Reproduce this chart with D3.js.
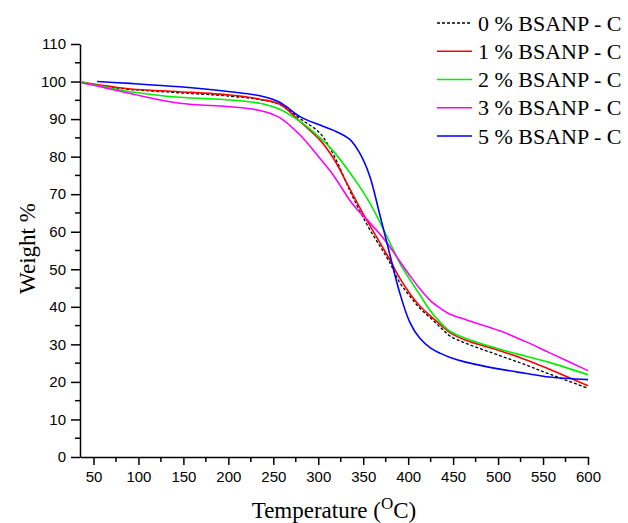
<!DOCTYPE html>
<html lang="en">
<head>
  <meta charset="UTF-8">
  <title>TGA curves</title>
  <script src="https://d3js.org/d3.v7.min.js"></script>
  <style>
    body { margin: 0; background: #fff; }
    .tick text { font-family: "Liberation Sans", Arial, sans-serif; font-size: 15px; fill: #000; }
    .axis path, .axis line { stroke: #000; stroke-width: 1.5; }
    .title { font-family: "Liberation Serif", "Times New Roman", serif; font-size: 23px; fill: #000; }
    .legend text { font-family: "Liberation Serif", "Times New Roman", serif; font-size: 22px; fill: #000; }
  </style>
</head>
<body>
  <div id="chart"></div>
  <script>
    // Temperatures (°C) the curves were read at
    const temps = [37, 54, 91, 146, 202, 235, 257, 280, 302, 317, 335, 346, 357, 368, 379, 391, 402, 413, 425, 436, 446, 465, 502, 530, 557, 600];

    // Weight % for each sample
    const w0 = [99.8, 99.0, 97.9, 97.0, 96.1, 95.2, 93.9, 90.1, 86.2, 80.5, 71.0, 65.6, 60.7, 56.4, 52.0, 46.3, 42.8, 39.6, 37.0, 34.5, 32.3, 30.2, 27.0, 24.6, 22.1, 18.3];
    const w1 = [99.9, 99.2, 98.0, 97.3, 96.4, 95.3, 94.0, 89.3, 84.4, 79.5, 71.5, 66.5, 61.8, 57.3, 52.8, 47.5, 43.5, 40.2, 37.5, 35.2, 33.2, 31.0, 28.3, 26.0, 23.4, 19.0];
    const w2 = [99.9, 99.0, 97.3, 95.8, 95.1, 94.2, 92.6, 89.3, 85.0, 81.4, 75.8, 72.0, 67.8, 62.8, 57.4, 51.5, 47.2, 43.2, 38.8, 35.8, 33.6, 31.5, 28.7, 26.9, 25.2, 21.9];
    const w3 = [99.6, 98.8, 96.8, 94.2, 93.3, 92.3, 90.4, 85.7, 79.5, 75.0, 68.4, 65.2, 62.5, 59.5, 56.2, 52.0, 48.3, 44.8, 41.6, 39.6, 38.1, 36.5, 33.6, 30.8, 27.8, 23.0];
    const w5 = [null, 100.0, 99.5, 98.6, 97.3, 96.2, 94.5, 90.6, 88.4, 87.0, 84.6, 81.0, 75.0, 65.0, 54.5, 43.4, 35.8, 31.6, 29.0, 27.6, 26.6, 25.2, 23.4, 22.3, 21.3, 20.6];

    const names = ["0 % BSANP - C", "1 % BSANP - C", "2 % BSANP - C", "3 % BSANP - C", "5 % BSANP - C"];
    const colors = ["#000000", "#ff0000", "#00ee00", "#ff00ff", "#0000ff"];
    const dashes = ["3,2", null, null, null, null];
    const series = [w0, w1, w2, w3, w5];

    const xTicks = [50, 100, 150, 200, 250, 300, 350, 400, 450, 500, 550, 600];
    const yTicks = [0, 10, 20, 30, 40, 50, 60, 70, 80, 90, 100, 110];

    const width = 628, height = 523;
    const mLeft = 80, mRight = 588, mTop = 44, mBottom = 457;

    const svg = d3.select("#chart").append("svg")
      .attr("width", width)
      .attr("height", height);

    const x = d3.scaleLinear().domain([35, 600]).range([mLeft, mRight]);
    const y = d3.scaleLinear().domain([0, 110]).range([mBottom, mTop]);

    // minor ticks
    const xMinor = d3.range(75, 600, 50);
    const yMinor = d3.range(5, 110, 10);

    svg.append("g").attr("class", "axis")
      .selectAll("line").data(xMinor).enter().append("line")
      .attr("x1", d => x(d)).attr("x2", d => x(d))
      .attr("y1", mBottom).attr("y2", mBottom + 5);

    svg.append("g").attr("class", "axis")
      .selectAll("line").data(yMinor).enter().append("line")
      .attr("y1", d => y(d)).attr("y2", d => y(d))
      .attr("x1", mLeft).attr("x2", mLeft - 5);

    // axes
    svg.append("g")
      .attr("class", "axis")
      .attr("transform", "translate(0," + mBottom + ")")
      .call(d3.axisBottom(x).tickValues(xTicks).tickSize(8).tickSizeOuter(0).tickPadding(6));

    svg.append("g")
      .attr("class", "axis")
      .attr("transform", "translate(" + mLeft + ",0)")
      .call(d3.axisLeft(y).tickValues(yTicks).tickSize(9).tickSizeOuter(0).tickPadding(5));

    // curves
    const line = d3.line()
      .defined(d => d[1] != null)
      .x(d => x(d[0]))
      .y(d => y(d[1]))
      .curve(d3.curveCatmullRom.alpha(0.5));

    series.forEach((vals, i) => {
      const pts = temps.map((t, j) => [t, vals[j]]);
      svg.append("path")
        .datum(pts)
        .attr("d", line)
        .attr("fill", "none")
        .attr("stroke", colors[i])
        .attr("stroke-width", i == 0 ? 1.3 : 1.6)
        .attr("stroke-dasharray", dashes[i]);
    });

    // legend
    const legend = svg.append("g").attr("class", "legend");
    names.forEach((n, i) => {
      const ly = 23 + i * 28.25;
      legend.append("line")
        .attr("x1", 437).attr("x2", 472)
        .attr("y1", ly).attr("y2", ly)
        .attr("stroke", colors[i])
        .attr("stroke-width", i == 0 ? 1.3 : 1.6)
        .attr("stroke-dasharray", dashes[i]);
      legend.append("text")
        .attr("x", 478).attr("y", ly)
        .attr("dy", "0.35em")
        .text(n);
    });

    // axis titles
    svg.append("text")
      .attr("class", "title")
      .attr("transform", "translate(35," + ((mTop + mBottom) / 2 - 2) + ") rotate(-90)")
      .attr("text-anchor", "middle")
      .text("Weight %");

    const xt = svg.append("text")
      .attr("class", "title")
      .attr("x", (mLeft + mRight) / 2)
      .attr("y", 518)
      .attr("text-anchor", "middle");
    xt.append("tspan").text("Temperature (");
    xt.append("tspan").attr("dy", -9).attr("font-size", "17px").text("O");
    xt.append("tspan").attr("dy", 9).text("C)");
  </script>
</body>
</html>
